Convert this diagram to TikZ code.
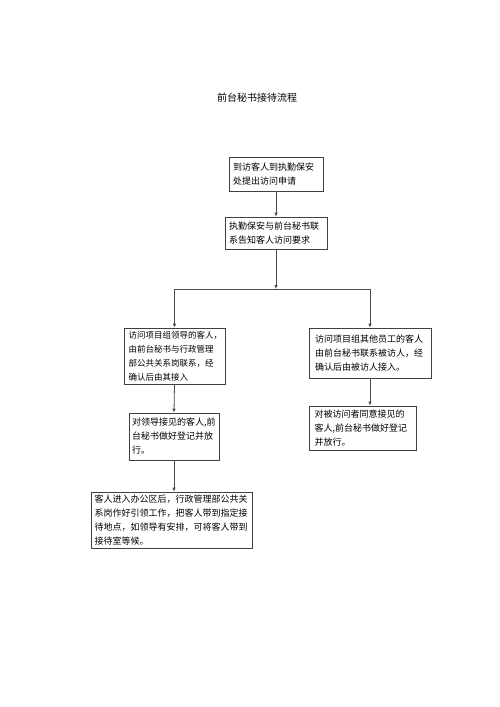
\documentclass[tikz,border=0pt]{standalone}
\usepackage{fontspec}
\setmainfont{Noto Sans CJK SC}
\usetikzlibrary{arrows.meta}
\begin{document}
\begin{tikzpicture}[x=1pt,y=-1pt,
  box/.style={draw=black!75, line width=0.8pt, rectangle, inner sep=0pt,
    align=left, font=\fontsize{9}{14}\selectfont},
  conn/.style={draw=black!70, line width=0.8pt},
  arr/.style={conn, -{Latex[length=4pt,width=3.6pt]}}]
\useasboundingbox (0,0) rectangle (500,707);
\node[font=\fontsize{10}{12}\selectfont] (title) at (257,98) {前台秘书接待流程};
\node[box, minimum width=94, minimum height=34, text width=86] (b1) at (276,174)
  {到访客人到执勤保安\\处提出访问申请};
\node[box, minimum width=102, minimum height=32, text width=94] (b2) at (276,233)
  {执勤保安与前台秘书联\\系告知客人访问要求};
\node[box, minimum width=101, minimum height=56, text width=92,
  font=\fontsize{8.5}{14}\selectfont] (b3) at (174.5,356)
  {访问项目组领导的客人，\\由前台秘书与行政管理\\部公共关系岗联系，经\\确认后由其接入};
\node[box, minimum width=122, minimum height=50, text width=110] (b4) at (370,353)
  {访问项目组其他员工的客人\\由前台秘书联系被访人，经\\确认后由被访人接入。};
\node[box, minimum width=90, minimum height=47, text width=84] (b5) at (174,436.5)
  {对领导接见的客人,前\\台秘书做好登记并放\\行。};
\node[box, minimum width=107, minimum height=44, text width=96] (b6) at (362.5,428)
  {对被访问者同意接见的\\客人,前台秘书做好登记\\并放行。};
\node[box, minimum width=161, minimum height=56, text width=154] (b7) at (171.5,520)
  {客人进入办公区后，行政管理部公共关\\系岗作好引领工作，把客人带到指定接\\待地点，如领导有安排，可将客人带到\\接待室等候。};
\coordinate (split) at (276,289);
\coordinate (L) at (b3.north |- split);
\coordinate (R) at (b4.north |- split);
\draw[arr] (b1.south) -- (b2.north);
\draw[arr] (b2.south) -- (split);
\draw[conn] (L) -- (R);
\draw[arr] (L) -- (b3.north);
\draw[arr] (R) -- (b4.north);
\draw[arr] (b3.south) -- (b5.north);
\draw[arr] (b5.south) -- (b5.south |- b7.north);
\draw[arr] (b4.south) -- (b4.south |- b6.north);
\end{tikzpicture}
\end{document}
